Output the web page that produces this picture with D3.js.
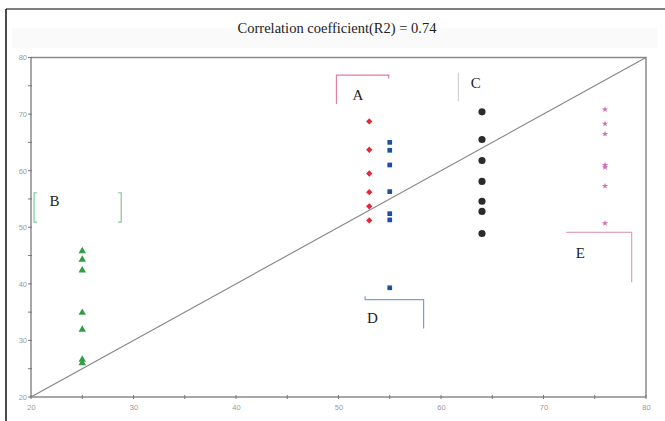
<!DOCTYPE html>
<html><head><meta charset="utf-8">
<script src="https://cdn.jsdelivr.net/npm/d3@7"></script>
<style>body{margin:0;background:#fff;}svg{display:block;}</style>
</head><body>
<svg id="chart" width="665" height="421"></svg>
<script>
const titleText = "Correlation coefficient(R2) = 0.74";
const xTicks = [20, 30, 40, 50, 60, 70, 80];
const yTicks = [20, 30, 40, 50, 60, 70, 80];
const minorTicks = [25, 35, 45, 55, 65, 75];
// Series (x = reference, y = measured)
const seriesB_x = 25;
const seriesB_y = [45.8, 44.3, 42.4, 34.9, 31.9, 26.6, 26.0];
const seriesA_x = 53;
const seriesA_y = [68.7, 63.7, 59.5, 56.2, 53.7, 51.2];
const seriesD_x = 55;
const seriesD_y = [65.0, 63.6, 61.0, 56.3, 52.4, 51.3, 39.3];
const seriesC_x = 64;
const seriesC_y = [70.4, 65.5, 61.8, 58.1, 54.6, 52.8, 48.9];
const seriesE_x = 76;
const seriesE_y = [70.8, 68.3, 66.5, 61.0, 60.6, 57.3, 50.7];
const groupLabels = ["A", "B", "C", "D", "E"];

const svg = d3.select("#chart");
const pLeft = 31, pRight = 646, pTop = 57.5, pBottom = 397;
const x = d3.scaleLinear().domain([20, 80]).range([pLeft, pRight]);
const y = d3.scaleLinear().domain([20, 80]).range([pBottom, pTop]);

// outer frame
svg.append("line").attr("x1", 6).attr("x2", 665).attr("y1", 9).attr("y2", 9).attr("stroke", "#555").attr("stroke-width", 1.5);
svg.append("line").attr("x1", 6).attr("x2", 6).attr("y1", 9).attr("y2", 421).attr("stroke", "#111").attr("stroke-width", 1.5);
// faint title band
svg.append("rect").attr("x", 12).attr("y", 28).attr("width", 645).attr("height", 20).attr("fill", "#fafafa");

svg.append("text").attr("x", 337).attr("y", 33).attr("text-anchor", "middle")
  .attr("font-family", "Liberation Serif, Times New Roman, serif").attr("font-size", 14.5).attr("fill", "#222")
  .text(titleText);

// plot box
const axisColor = "#8a8a8a";
svg.append("rect").attr("x", pLeft).attr("y", pTop).attr("width", pRight - pLeft).attr("height", pBottom - pTop)
  .attr("fill", "none").attr("stroke", axisColor).attr("stroke-width", 1.5);

// axes
const xAxis = d3.axisBottom(x).tickValues(xTicks).tickSize(0).tickPadding(8).tickFormat(d3.format("d"));
const gx = svg.append("g").attr("transform", `translate(0,${pBottom})`).call(xAxis);
const yAxis = d3.axisLeft(y).tickValues(yTicks).tickSize(0).tickPadding(4).tickFormat(d3.format("d"));
const gy = svg.append("g").attr("transform", `translate(${pLeft},0)`).call(yAxis);
[gx, gy].forEach(g => {
  g.select(".domain").remove();
  g.selectAll("text").attr("fill", "#9a9a9a").attr("font-size", 7.5).attr("font-family", "Liberation Sans, Arial, sans-serif");
});
const allTicks = xTicks.concat(minorTicks);
svg.append("g").selectAll("line").data(allTicks).join("line")
  .attr("x1", d => x(d)).attr("x2", d => x(d)).attr("y1", pBottom - 2).attr("y2", pBottom + 2)
  .attr("stroke", "#777").attr("stroke-width", 1);
svg.append("g").selectAll("line").data(allTicks).join("line")
  .attr("y1", d => y(d)).attr("y2", d => y(d)).attr("x1", pLeft - 3).attr("x2", pLeft + 1)
  .attr("stroke", "#777").attr("stroke-width", 1);

// diagonal
svg.append("line").attr("x1", x(20)).attr("y1", y(20)).attr("x2", x(80)).attr("y2", y(80))
  .attr("stroke", "#858585").attr("stroke-width", 1.1);

// brackets and labels
const serif = "Liberation Serif, Times New Roman, serif";
function path(pts, color) {
  svg.append("path").attr("d", d3.line()(pts.map(p => [x(p[0]), y(p[1])])))
    .attr("fill", "none").attr("stroke", color).attr("stroke-width", 1.2);
}
function label(t, vx, vy) {
  svg.append("text").attr("x", x(vx)).attr("y", y(vy)).attr("text-anchor", "middle")
    .attr("font-family", serif).attr("font-size", 15).attr("fill", "#222").text(t);
}
// A
path([[49.8, 71.8], [49.8, 76.9], [54.9, 76.9], [54.9, 76.3]], "#e07f9c");
label(groupLabels[0], 51.9, 72.5);
// B
path([[20.6, 56.1], [20.3, 56.1], [20.3, 50.9], [20.6, 50.9]], "#86c596");
path([[28.5, 56.1], [28.8, 56.1], [28.8, 50.9], [28.5, 50.9]], "#86c596");
label(groupLabels[1], 22.3, 53.8);
// C
path([[61.7, 77.3], [61.7, 72.3]], "#cfcfcf");
label(groupLabels[2], 63.4, 74.6);
// D
path([[52.6, 37.8], [52.6, 37.2], [58.3, 37.2], [58.3, 32.1]], "#7d9fd6");
label(groupLabels[3], 53.3, 33.1);
// E
path([[72.2, 49.1], [78.6, 49.1], [78.6, 40.3]], "#e2a3bd");
label(groupLabels[4], 73.6, 44.6);

// points
const sym = (type, size) => d3.symbol().type(type).size(size)();
svg.append("g").selectAll("path").data(seriesB_y).join("path")
  .attr("d", sym(d3.symbolTriangle, 24)).attr("transform", d => `translate(${x(seriesB_x)},${y(d)})`).attr("fill", "#2f9e44");
svg.append("g").selectAll("path").data(seriesA_y).join("path")
  .attr("d", sym(d3.symbolSquare, 20)).attr("transform", d => `translate(${x(seriesA_x)},${y(d)}) rotate(45)`).attr("fill", "#e3283c");
svg.append("g").selectAll("path").data(seriesD_y).join("path")
  .attr("d", sym(d3.symbolSquare, 22)).attr("transform", d => `translate(${x(seriesD_x)},${y(d)})`).attr("fill", "#1f4fa0");
svg.append("g").selectAll("path").data(seriesC_y).join("path")
  .attr("d", sym(d3.symbolCircle, 40)).attr("transform", d => `translate(${x(seriesC_x)},${y(d)})`).attr("fill", "#2b2b2b");
svg.append("g").selectAll("path").data(seriesE_y).join("path")
  .attr("d", sym(d3.symbolStar, 12)).attr("transform", d => `translate(${x(seriesE_x)},${y(d)})`).attr("fill", "#cf6db3");
</script>
</body></html>
